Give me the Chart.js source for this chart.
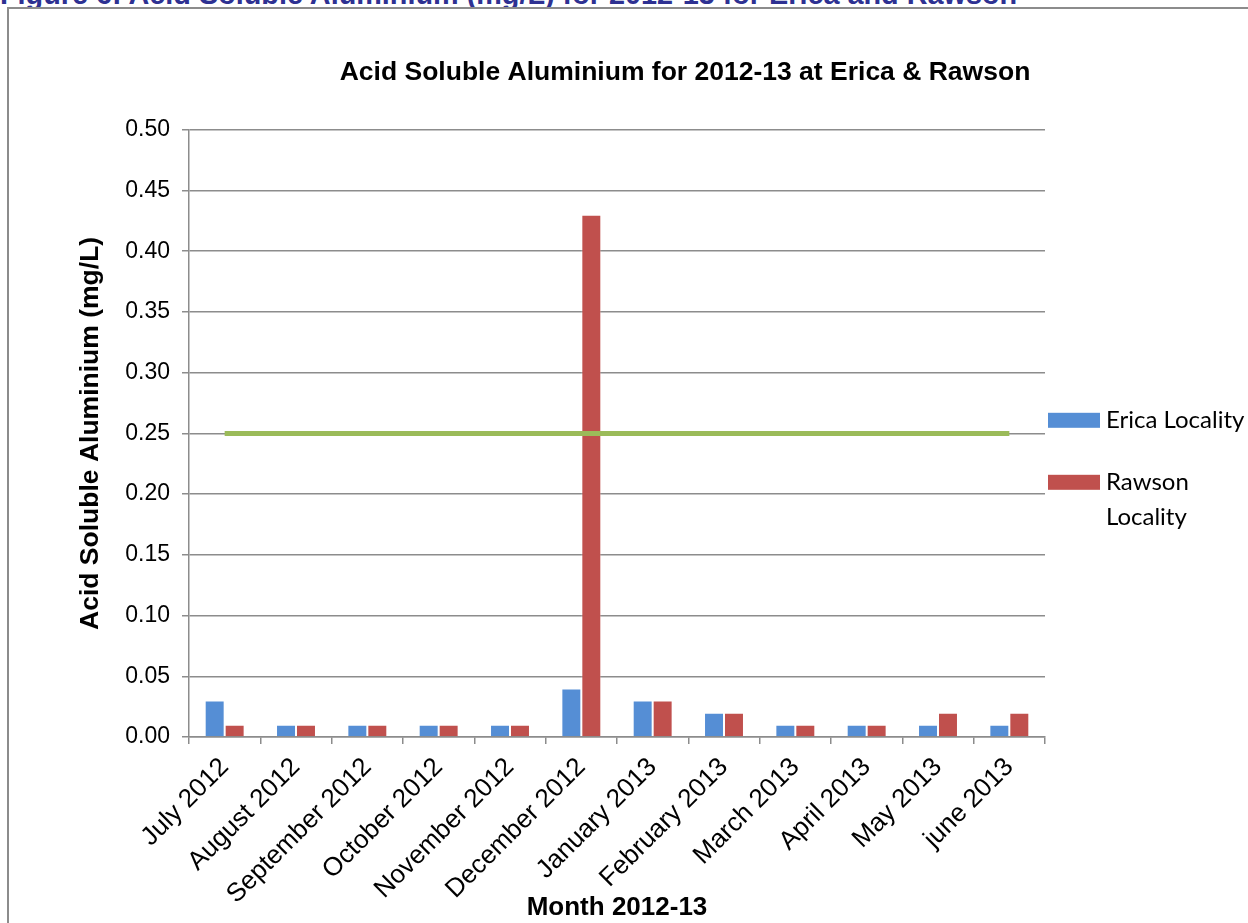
<!DOCTYPE html>
<html>
<head>
<meta charset="utf-8">
<title>Acid Soluble Aluminium 2012-13</title>
<script src="https://cdn.jsdelivr.net/npm/chart.js@4/dist/chart.umd.min.js"></script>
<style>
  html, body { margin: 0; padding: 0; background: #ffffff; overflow: hidden; width: 1248px; height: 923px; }
  #caption {
    position: absolute; left: 0; top: -20px; white-space: nowrap;
    font: bold 28.8px "Liberation Sans", Arial, sans-serif; line-height: 28.8px;
    color: #2e3192;
  }
  #frame {
    position: absolute; left: 7px; top: 7px;
    border-left: 2px solid #8c8c8c; border-top: 2px solid #8c8c8c;
    width: 1352px; height: 914px; background: #ffffff;
  }
  #chart { display: block; }
</style>
</head>
<body>
<div id="caption">Figure 6: Acid Soluble Aluminium (mg/L) for 2012-13 for Erica and Rawson</div>
<div id="frame"><canvas id="chart" width="1352" height="914"></canvas></div>
<script>
// Monthly acid soluble aluminium results (mg/L)
const months = ['July 2012', 'August 2012', 'September 2012', 'October 2012', 'November 2012', 'December 2012',
                'January 2013', 'February 2013', 'March 2013', 'April 2013', 'May 2013', 'june 2013'];
const ericaValues  = [0.03, 0.01, 0.01, 0.01, 0.01, 0.04, 0.03, 0.02, 0.01, 0.01, 0.01, 0.01];
const rawsonValues = [0.01, 0.01, 0.01, 0.01, 0.01, 0.43, 0.03, 0.02, 0.01, 0.01, 0.02, 0.02];
// Guideline level drawn across the months
const guidelineValues = [0.25, 0.25, 0.25, 0.25, 0.25, 0.25, 0.25, 0.25, 0.25, 0.25, 0.25, 0.25];

const seriesNames = ['Erica Locality', 'Rawson Locality'];

const ARIAL = '"Liberation Sans", Arial, sans-serif';
const GRID = '#8c8c8c';

// Legend drawn beside the plot, wrapping long labels the way the office chart does
const sideLegend = {
  id: 'sideLegend',
  afterDraw(chart, args, opts) {
    const ctx = chart.ctx;
    const area = chart.chartArea;
    const boxX = area.right + 3;
    const textX = boxX + opts.boxWidth + 6;
    ctx.save();
    ctx.font = opts.font;
    ctx.textBaseline = 'middle';
    ctx.textAlign = 'left';
    let y = area.top + opts.firstOffset;
    chart.data.datasets.forEach(ds => {
      if (ds.type === 'line') return;
      // wrap words into lines no wider than maxWidth
      const words = ds.label.split(' ');
      const lines = [];
      let cur = '';
      words.forEach(w => {
        const test = cur ? cur + ' ' + w : w;
        if (cur && ctx.measureText(test).width > opts.maxWidth) { lines.push(cur); cur = w; }
        else cur = test;
      });
      if (cur) lines.push(cur);
      ctx.fillStyle = ds.backgroundColor;
      ctx.fillRect(boxX, y - opts.boxHeight / 2, opts.boxWidth, opts.boxHeight);
      ctx.fillStyle = '#000000';
      lines.forEach((ln, i) => ctx.fillText(ln, textX, y + i * opts.lineHeight));
      y += opts.itemGap;
    });
    ctx.restore();
  }
};

new Chart(document.getElementById('chart'), {
  type: 'bar',
  data: {
    labels: months,
    datasets: [
      {
        type: 'line', label: 'Guideline', data: guidelineValues,
        borderColor: '#9bbb59', borderWidth: 5, pointRadius: 0, fill: false, order: 0
      },
      {
        label: seriesNames[0], data: ericaValues, backgroundColor: '#558ed5',
        borderColor: 'rgba(255,255,255,0.35)', borderWidth: 1,
        categoryPercentage: 0.56, barPercentage: 1.0, order: 1
      },
      {
        label: seriesNames[1], data: rawsonValues, backgroundColor: '#c0504d',
        borderColor: 'rgba(255,255,255,0.35)', borderWidth: 1,
        categoryPercentage: 0.56, barPercentage: 1.0, order: 1
      }
    ]
  },
  options: {
    responsive: false,
    animation: false,
    layout: { padding: 0 },
    plugins: {
      legend: { display: false },
      tooltip: { enabled: false },
      title: {
        display: true,
        text: 'Acid Soluble Aluminium for 2012-13 at Erica & Rawson',
        color: '#000000',
        font: { family: ARIAL, size: 26.5, weight: 'bold' },
        padding: { top: 48, bottom: 41 }
      },
      sideLegend: {
        font: '24px Lato, "Open Sans", sans-serif',
        boxWidth: 52, boxHeight: 15, firstOffset: 290.5, itemGap: 62,
        lineHeight: 35, maxWidth: 150
      }
    },
    scales: {
      x: {
        offset: true,
        grid: { display: true, drawOnChartArea: false, drawTicks: true, tickLength: 7, color: GRID, lineWidth: 1.5, offset: true },
        border: { display: true, color: GRID, width: 1.5 },
        ticks: {
          color: '#000000', font: { family: ARIAL, size: 26 },
          minRotation: 45, maxRotation: 45, autoSkip: false, padding: 8, labelOffset: 0
        },
        title: {
          display: true, text: 'Month 2012-13', color: '#000000',
          font: { family: ARIAL, size: 26, weight: 'bold' },
          padding: { top: 0, bottom: 0 }
        },
        afterFit(scale) { scale.height = 186; }
      },
      y: {
        min: 0, max: 0.5,
        grid: { color: GRID, lineWidth: 1.5, tickLength: 7, drawTicks: true },
        border: { display: true, color: GRID, width: 1.5 },
        ticks: {
          stepSize: 0.05, color: '#000000', font: { family: ARIAL, size: 23 }, padding: 12,
          callback: v => Number(v).toFixed(2)
        },
        title: {
          display: true, text: 'Acid Soluble Aluminium (mg/L)', color: '#000000',
          font: { family: ARIAL, size: 26.5, weight: 'bold' },
          padding: { top: 66, bottom: 0 }
        },
        afterFit(scale) { scale.width = 180; }
      },
      // empty right-hand band that holds the legend beside the plot
      legendBand: {
        type: 'linear', position: 'right', display: true,
        grid: { display: false, drawTicks: false }, border: { display: false },
        ticks: { display: false },
        afterFit(scale) { scale.width = 316; }
      }
    }
  },
  plugins: [sideLegend]
});
</script>
</body>
</html>
